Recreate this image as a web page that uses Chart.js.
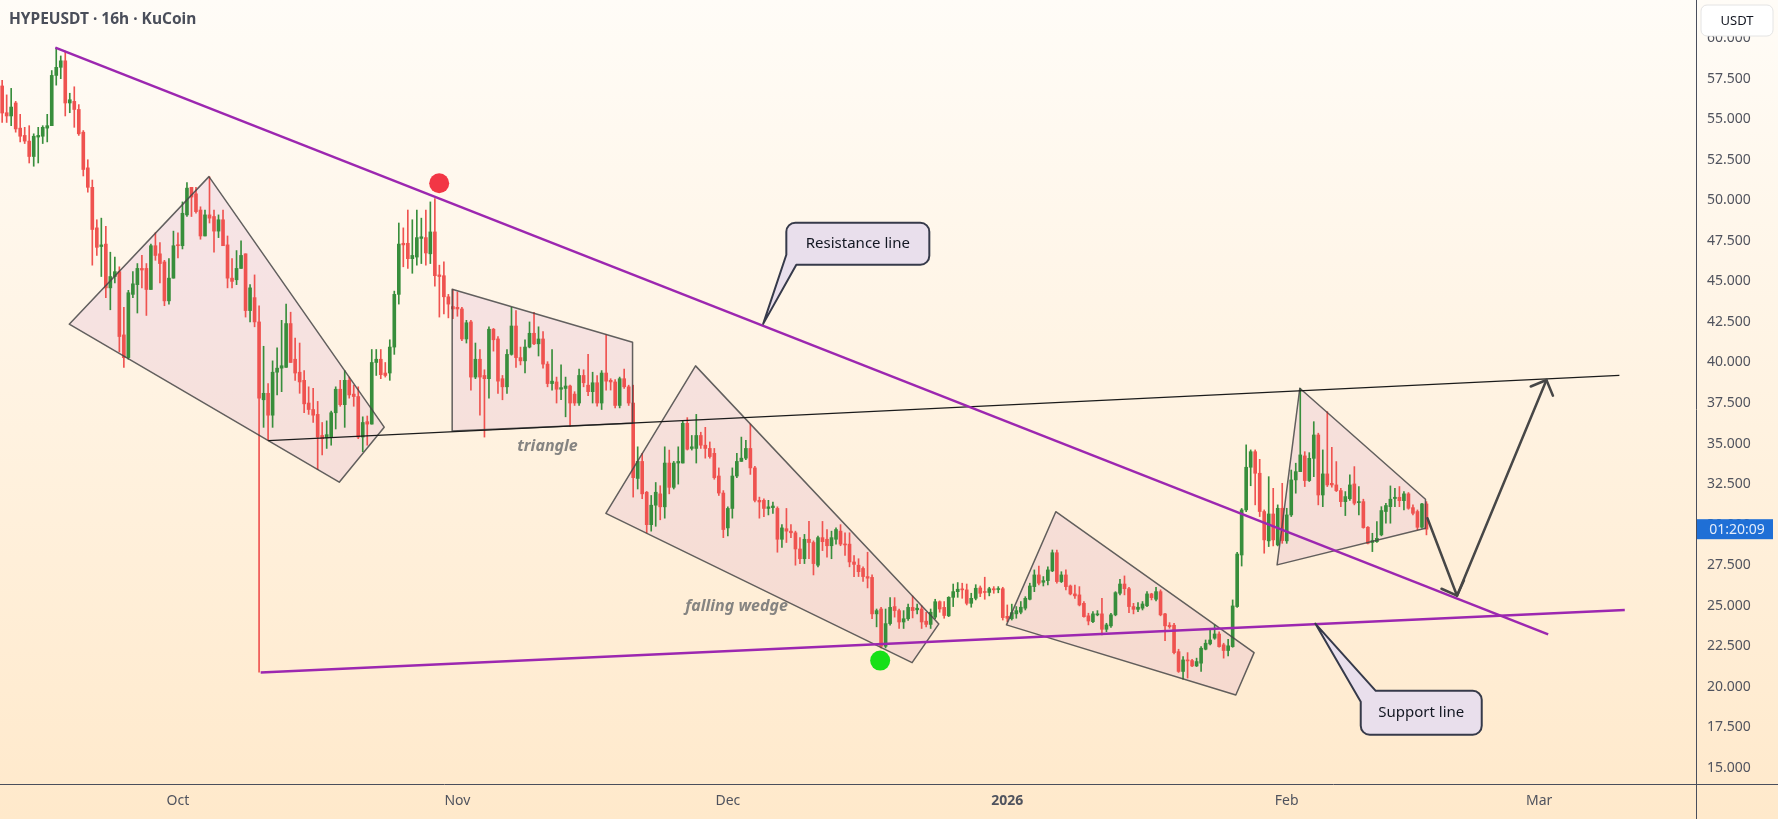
<!DOCTYPE html>
<html>
<head>
<meta charset="utf-8">
<title>HYPEUSDT 16h KuCoin</title>
<script src="https://cdn.jsdelivr.net/npm/chart.js@4.4.1/dist/chart.umd.min.js"></script>
<style>
  html, body { margin: 0; padding: 0; background: #fff6ea; }
  #wrap { width: 1778px; height: 819px; }
</style>
</head>
<body>
<div id="wrap"><canvas id="chart" width="1778" height="819"></canvas></div>
<script>
// x values are days counted from 1 Oct 2025, two 16h candles per day
const firstCandleDay = -19.5;
const candleStep = 0.5;

const monthTicks = [0, 31, 61, 92, 123, 151];
const monthLabels = ['Oct', 'Nov', 'Dec', '2026', 'Feb', 'Mar'];
const priceTicks = [15, 17.5, 20, 22.5, 25, 27.5, 30, 32.5, 35, 37.5, 40, 42.5, 45, 47.5, 50, 52.5, 55, 57.5, 60];

const opens = [
  57.05, 55.4, 55.2, 56.0, 54.45, 54.0, 53.65, 52.7, 53.9, 53.95,
  54.45, 54.6, 57.7, 58.2, 58.6, 56.0, 56.1, 55.6, 54.2, 52.0,
  50.8, 48.3, 47.15, 47.3, 44.6, 45.3, 45.6, 41.7, 40.3, 44.2,
  44.8, 45.8, 45.8, 44.5, 47.2, 46.7, 46.2, 43.8, 45.2, 47.25,
  47.2, 49.1, 50.8, 50.4, 49.4, 47.8, 49.1, 49.0, 48.1, 48.8,
  47.25, 45.2, 45.1, 45.8, 46.7, 43.2, 44.0, 42.5, 37.7, 38.1,
  36.75, 39.4, 39.65, 39.7, 42.4, 40.2, 39.4, 38.9, 37.5, 37.1,
  36.8, 35.5, 35.35, 35.4, 36.9, 38.35, 37.4, 38.9, 38.05, 37.9,
  35.4, 36.35, 36.2, 40.0, 40.2, 39.35, 39.35, 40.95, 44.2, 47.35,
  47.35, 46.4, 46.5, 47.65, 47.7, 46.7, 48.05, 45.4, 45.35, 44.05,
  43.45, 43.4, 43.3, 41.45, 42.5, 39.1, 40.2, 39.2, 39.0, 42.05,
  41.45, 39.0, 38.5, 40.5, 42.25, 40.3, 40.1, 40.95, 41.8, 41.15,
  41.45, 39.9, 38.7, 38.8, 38.35, 38.4, 38.55, 38.05, 37.5, 39.2,
  38.6, 38.2, 38.75, 37.5, 39.35, 38.9, 38.8, 37.35, 39.0, 38.5,
  37.5, 32.85, 33.9, 32.0, 30.0, 31.2, 31.9, 31.1, 33.8, 32.3,
  33.8, 33.8, 36.25, 34.7, 34.7, 35.5, 34.9, 34.7, 34.4, 33.0,
  31.95, 29.8, 31.0, 33.0, 33.9, 34.1, 34.7, 33.5, 31.5, 31.5,
  31.0, 31.05, 31.0, 29.1, 29.75, 29.6, 29.5, 28.5, 27.9, 29.1,
  28.9, 27.5, 29.2, 29.1, 28.7, 29.1, 29.6, 28.8, 28.8, 27.7,
  27.5, 27.3, 26.8, 26.75, 24.5, 24.8, 22.5, 23.9, 24.95, 24.7,
  24.0, 24.2, 24.9, 24.75, 24.8, 24.05, 23.85, 24.3, 25.25, 24.9,
  24.38, 25.52, 25.87, 26.02, 25.98, 25.15, 25.46, 26.1, 25.87, 25.82,
  26.05, 26.0, 26.05, 24.35, 24.2, 24.5, 24.6, 24.85, 25.4, 26.18,
  26.9, 26.45, 26.55, 27.15, 28.27, 26.49, 26.9, 26.22, 25.73, 25.67,
  25.15, 24.38, 24.02, 24.44, 24.5, 23.55, 23.76, 24.44, 25.77, 26.34,
  26.05, 24.95, 24.78, 24.85, 25.0, 25.73, 25.4, 25.87, 24.5, 23.8,
  23.8, 22.17, 20.95, 21.66, 21.62, 21.29, 21.46, 22.32, 22.65, 23.0,
  23.26, 22.59, 22.24, 22.48, 24.95, 28.13, 30.91, 33.54, 34.5, 33.17,
  30.81, 29.0, 30.66, 28.75, 31.01, 29.0, 30.6, 32.76, 33.27, 34.24,
  32.72, 34.09, 35.53, 31.83, 33.13, 32.55, 32.45, 32.1, 31.42, 31.6,
  32.51, 31.36, 31.42, 29.84, 28.9, 28.95, 29.37, 30.81, 31.11, 31.61,
  31.69, 31.48, 31.9, 31.05, 30.81, 29.84, 31.28
];
const highs = [
  57.4, 56.5, 56.9, 56.1, 55.3, 54.5, 54.6, 54.1, 54.5, 54.6,
  55.3, 58.0, 59.4, 58.9, 59.2, 56.6, 57.0, 55.9, 54.3, 52.5,
  51.25, 48.8, 48.9, 48.4, 46.8, 46.5, 45.9, 43.4, 44.45, 45.6,
  46.1, 46.6, 46.1, 47.3, 48.0, 47.4, 46.3, 46.4, 48.1, 48.0,
  49.9, 51.1, 50.8, 50.8, 49.6, 49.4, 51.45, 49.4, 49.1, 49.4,
  47.8, 46.4, 46.9, 47.5, 46.7, 44.8, 45.4, 43.5, 41.0, 38.7,
  40.1, 40.9, 42.6, 43.6, 43.1, 41.5, 41.2, 39.5, 38.5, 38.4,
  37.6, 36.3, 36.4, 37.0, 38.5, 38.9, 39.5, 39.1, 38.6, 38.5,
  36.65, 36.7, 40.8, 40.8, 40.8, 40.0, 41.4, 44.4, 48.6, 48.3,
  49.4, 48.8, 49.4, 48.9, 49.4, 49.9, 50.1, 46.0, 46.2, 44.2,
  44.5, 44.35, 43.4, 42.6, 42.6, 41.2, 40.8, 39.55, 42.2, 42.1,
  41.6, 39.2, 40.8, 43.4, 43.2, 40.95, 41.4, 42.5, 43.1, 42.2,
  41.9, 40.05, 40.8, 39.1, 39.85, 39.1, 38.6, 38.2, 39.6, 39.55,
  40.5, 39.4, 39.2, 39.5, 41.7, 39.0, 38.95, 39.1, 39.6, 38.6,
  38.6, 34.8, 34.4, 32.05, 31.8, 32.6, 32.4, 34.8, 34.6, 33.9,
  34.8, 36.4, 36.6, 35.5, 36.8, 35.7, 36.0, 35.1, 34.7, 33.5,
  32.1, 31.1, 33.5, 34.4, 35.4, 35.2, 36.2, 33.6, 31.7, 31.6,
  31.5, 31.4, 31.1, 30.0, 31.0, 30.0, 29.6, 29.2, 29.4, 30.2,
  29.0, 29.3, 30.2, 29.7, 29.6, 29.8, 30.0, 29.5, 29.5, 28.1,
  27.9, 27.4, 28.3, 26.9, 24.8, 24.9, 24.8, 25.5, 25.5, 24.8,
  24.7, 25.1, 25.6, 25.1, 25.0, 24.6, 24.8, 25.4, 25.3, 25.26,
  25.56, 26.34, 26.43, 26.39, 26.34, 25.77, 26.3, 26.22, 26.76, 26.14,
  26.18, 26.18, 26.14, 25.05, 25.1, 24.95, 25.26, 25.56, 26.39, 27.21,
  27.45, 26.8, 27.4, 28.44, 28.44, 27.1, 27.21, 26.28, 26.28, 26.18,
  25.26, 24.54, 24.64, 24.7, 25.46, 23.92, 24.54, 25.87, 26.63, 26.84,
  26.14, 25.15, 25.19, 25.26, 25.87, 25.77, 26.14, 25.98, 24.54, 23.96,
  23.92, 22.32, 21.87, 22.11, 21.7, 21.77, 22.48, 22.89, 23.51, 23.82,
  23.4, 22.69, 22.93, 25.36, 28.3, 31.0, 34.92, 34.61, 34.61, 34.03,
  30.91, 32.96, 32.24, 31.22, 32.55, 31.01, 33.37, 33.79, 38.41, 34.5,
  34.44, 36.35, 35.64, 34.61, 36.97, 34.77, 33.89, 32.24, 32.04, 33.07,
  33.58, 32.35, 31.57, 29.88, 29.47, 30.19, 31.11, 31.32, 32.39, 32.24,
  32.35, 32.04, 31.98, 31.22, 30.91, 31.32, 31.42
];
const lows = [
  54.8, 54.8, 54.6, 54.2, 53.6, 53.5, 52.3, 52.1, 52.3, 53.5,
  53.6, 54.6, 57.1, 57.5, 55.2, 55.4, 54.5, 54.0, 51.5, 50.5,
  46.0, 46.6, 45.3, 44.0, 43.25, 44.9, 40.65, 39.7, 40.2, 44.0,
  43.05, 44.6, 42.9, 44.5, 46.3, 44.9, 43.5, 43.6, 45.2, 46.45,
  47.0, 49.0, 49.0, 49.2, 47.6, 47.8, 48.6, 46.8, 47.7, 47.2,
  44.6, 44.6, 44.8, 45.8, 42.8, 42.5, 42.2, 20.9, 36.0, 35.2,
  36.0, 38.0, 38.2, 39.7, 40.0, 38.9, 38.1, 36.9, 36.8, 36.3,
  33.4, 34.3, 34.7, 34.9, 35.9, 37.3, 36.0, 37.8, 37.3, 35.3,
  34.5, 34.9, 36.2, 39.2, 39.0, 39.1, 38.9, 40.5, 43.6, 45.9,
  45.8, 45.5, 46.0, 46.1, 46.0, 46.1, 44.7, 42.8, 43.0, 42.75,
  42.7, 42.85, 41.35, 41.2, 38.3, 39.0, 36.75, 35.4, 37.8, 40.7,
  38.1, 37.7, 38.1, 40.45, 39.7, 39.85, 39.35, 40.9, 41.1, 40.4,
  39.65, 38.5, 38.3, 37.5, 37.7, 36.65, 36.05, 37.35, 37.35, 38.5,
  37.95, 37.5, 37.3, 37.1, 38.3, 38.3, 37.2, 37.2, 38.4, 37.35,
  31.7, 32.2, 31.6, 29.5, 29.6, 29.9, 30.3, 30.4, 31.9, 32.2,
  32.5, 33.8, 34.6, 34.6, 33.8, 34.7, 34.1, 34.1, 32.8, 31.8,
  29.2, 29.3, 30.4, 32.9, 33.9, 34.0, 33.1, 31.4, 30.4, 30.5,
  30.6, 30.7, 28.3, 28.6, 28.9, 29.2, 27.5, 27.6, 27.6, 27.9,
  26.9, 27.4, 28.4, 28.0, 27.9, 28.8, 28.7, 28.1, 27.4, 26.8,
  26.8, 26.5, 26.1, 24.2, 23.7, 22.4, 22.4, 23.8, 24.3, 23.6,
  23.6, 24.1, 24.25, 24.5, 23.6, 23.7, 23.6, 24.2, 24.6, 24.23,
  24.33, 24.95, 25.52, 25.46, 25.05, 24.91, 25.36, 25.56, 25.4, 25.61,
  25.77, 25.8, 24.12, 24.02, 24.12, 24.23, 24.5, 24.74, 25.36, 25.87,
  26.28, 26.22, 26.28, 27.1, 26.39, 26.43, 25.98, 25.67, 25.46, 24.99,
  24.3, 23.82, 23.96, 24.38, 23.2, 23.4, 23.67, 24.38, 25.67, 25.67,
  24.58, 24.5, 24.64, 24.74, 24.95, 25.36, 25.3, 24.38, 22.85, 23.61,
  22.03, 20.89, 20.48, 20.54, 21.25, 21.25, 20.95, 22.28, 22.59, 22.93,
  22.44, 21.77, 21.91, 22.44, 24.9, 27.45, 30.8, 32.4, 31.22, 30.5,
  28.24, 28.65, 28.69, 28.69, 28.85, 28.85, 30.5, 31.94, 33.27, 32.35,
  32.66, 32.96, 31.22, 31.11, 32.35, 32.31, 32.04, 31.11, 30.56, 31.5,
  31.22, 30.6, 29.78, 28.81, 28.34, 28.9, 29.31, 30.09, 30.09, 31.11,
  31.11, 30.91, 30.95, 30.6, 29.68, 29.78, 29.37
];
const closes = [
  55.38, 55.2, 55.75, 54.4, 53.95, 53.65, 52.7, 53.95, 54.0, 54.5,
  54.6, 57.7, 58.2, 58.6, 56.0, 56.2, 55.6, 54.1, 51.9, 50.8,
  48.2, 47.1, 47.25, 44.6, 45.3, 45.6, 41.6, 40.3, 44.3, 44.85,
  45.8, 45.7, 44.5, 47.2, 46.6, 46.1, 43.8, 45.2, 47.2, 47.2,
  49.2, 50.75, 50.2, 49.3, 47.8, 49.1, 48.9, 48.1, 48.8, 47.2,
  45.2, 45.0, 45.8, 46.6, 43.2, 44.6, 42.5, 37.8, 38.1, 36.75,
  39.4, 39.65, 39.8, 42.4, 40.0, 39.35, 38.8, 37.45, 37.1, 36.75,
  35.4, 35.3, 35.55, 36.9, 38.35, 37.4, 38.9, 38.0, 37.9, 35.4,
  36.3, 36.2, 40.0, 40.2, 39.25, 39.2, 40.95, 44.2, 47.3, 47.25,
  46.4, 46.6, 47.7, 47.75, 46.75, 48.05, 45.35, 45.3, 44.05, 43.6,
  43.3, 43.3, 41.45, 42.45, 39.1, 40.2, 39.1, 39.0, 42.05, 41.4,
  38.85, 38.5, 40.5, 42.25, 40.3, 40.1, 40.95, 41.8, 41.15, 41.45,
  39.9, 38.7, 38.85, 38.35, 38.45, 38.55, 37.5, 37.5, 39.2, 38.75,
  38.2, 38.75, 37.5, 39.35, 38.85, 38.8, 37.35, 39.0, 38.5, 37.5,
  32.9, 33.9, 31.9, 30.0, 31.2, 32.0, 31.1, 33.8, 32.3, 33.8,
  33.9, 36.25, 34.65, 34.8, 35.5, 34.9, 34.7, 34.2, 32.9, 31.95,
  29.7, 31.0, 33.0, 33.9, 34.1, 34.7, 33.5, 31.5, 31.4, 31.0,
  31.1, 31.15, 29.1, 29.8, 29.6, 29.5, 28.5, 27.9, 29.1, 28.9,
  27.6, 29.2, 28.95, 28.7, 29.2, 29.7, 28.8, 28.75, 27.7, 27.55,
  27.1, 26.8, 26.7, 24.5, 24.7, 22.5, 23.9, 24.9, 24.7, 24.0,
  24.2, 24.9, 24.7, 24.85, 24.0, 23.85, 24.6, 25.25, 24.8, 24.4,
  25.52, 25.87, 26.02, 25.98, 25.15, 25.46, 26.08, 25.77, 25.82, 26.05,
  25.98, 26.05, 24.27, 24.23, 24.58, 24.7, 24.91, 25.46, 26.22, 26.9,
  26.39, 26.55, 27.21, 28.27, 26.49, 26.9, 26.18, 25.73, 25.61, 25.05,
  24.33, 24.06, 24.5, 24.5, 23.55, 23.82, 24.44, 25.81, 26.34, 26.05,
  24.95, 24.78, 24.91, 25.11, 25.73, 25.5, 25.87, 24.44, 23.76, 23.71,
  22.11, 20.95, 21.66, 21.6, 21.29, 21.56, 22.38, 22.69, 22.89, 23.26,
  22.48, 22.24, 22.53, 24.99, 28.19, 30.91, 33.54, 34.5, 33.17, 30.81,
  29.06, 30.66, 29.06, 31.01, 29.02, 30.6, 32.76, 33.27, 34.3, 32.72,
  34.09, 35.53, 31.83, 33.13, 32.45, 32.45, 32.1, 31.42, 31.73, 32.45,
  31.32, 31.42, 29.82, 28.85, 29.02, 29.16, 30.87, 31.18, 31.57, 31.69,
  31.48, 31.9, 31.01, 30.7, 29.84, 31.28, 29.72
];

// drawings, given as [day, price]
const resistanceLine = [[-13.6, 59.41], [152.0, 23.24]];
const supportLine = [[9.18, 20.89], [160.5, 24.74]];
const rangeLine = [[10.02, 35.18], [159.9, 39.21]];
const patternBoxes = [
  [[-12.06, 42.36], [3.44, 51.46], [22.88, 36.01], [17.89, 32.62]],
  [[30.42, 44.51], [50.43, 41.25], [50.43, 36.25], [30.42, 35.78]],
  [[47.47, 30.70], [57.42, 39.79], [84.41, 23.88], [81.44, 21.49]],
  [[91.91, 23.82], [97.38, 30.80], [119.38, 22.11], [117.35, 19.50]],
  [[124.45, 38.41], [138.39, 31.57], [138.39, 29.78], [121.93, 27.52]]
];
const projection = [[138.61, 30.40], [141.89, 25.62], [151.81, 38.92]];
const pivotDots = [
  { at: [28.98, 51.05], color: '#f23645' },
  { at: [77.9, 21.62], color: '#17e017' }
];
const patternLabels = [
  { text: 'triangle', at: [41.0, 34.82] },
  { text: 'falling wedge', at: [61.97, 24.96] }
];
const callouts = [
  { text: 'Resistance line', tip: [64.92, 42.38], box: [75.42, 47.32], w: 143, h: 42, corner: 'bl' },
  { text: 'Support line', tip: [126.17, 23.90], box: [137.92, 18.40], w: 121, h: 44, corner: 'tl' }
];

const upColor = '#388e3c';
const downColor = '#ef5350';
const FONT = "'Noto Sans', 'DejaVu Sans', sans-serif";

const candleDays = opens.map((_, i) => firstCandleDay + i * candleStep);
const candleColors = closes.map((c, i) => c >= opens[i] ? upColor : downColor);
const wickData = candleDays.map((d, i) => ({ x: d, y: [lows[i], highs[i]] }));
const bodyData = candleDays.map((d, i) => ({ x: d, y: [Math.min(opens[i], closes[i]), Math.max(opens[i], closes[i])] }));

function arrowHead(ctx, from, to, len, ang) {
  const a = Math.atan2(to.y - from.y, to.x - from.x);
  ctx.beginPath();
  ctx.moveTo(to.x - len * Math.cos(a - ang), to.y - len * Math.sin(a - ang));
  ctx.lineTo(to.x, to.y);
  ctx.lineTo(to.x - len * Math.cos(a + ang), to.y - len * Math.sin(a + ang));
  ctx.stroke();
}

function calloutPath(ctx, x0, y0, w, h, r, tip, corner) {
  const x1 = x0 + w, y1 = y0 + h;
  ctx.beginPath();
  if (corner === 'bl') {
    ctx.moveTo(x0 + r, y0);
    ctx.lineTo(x1 - r, y0); ctx.arcTo(x1, y0, x1, y0 + r, r);
    ctx.lineTo(x1, y1 - r); ctx.arcTo(x1, y1, x1 - r, y1, r);
    ctx.lineTo(x0 + 10, y1);
    ctx.lineTo(tip.x, tip.y);
    ctx.lineTo(x0, y1 - 10);
    ctx.lineTo(x0, y0 + r); ctx.arcTo(x0, y0, x0 + r, y0, r);
  } else {
    ctx.moveTo(x0 + 15, y0);
    ctx.lineTo(x1 - r, y0); ctx.arcTo(x1, y0, x1, y0 + r, r);
    ctx.lineTo(x1, y1 - r); ctx.arcTo(x1, y1, x1 - r, y1, r);
    ctx.lineTo(x0 + r, y1); ctx.arcTo(x0, y1, x0, y1 - r, r);
    ctx.lineTo(x0, y0 + 11);
    ctx.lineTo(tip.x, tip.y);
  }
  ctx.closePath();
}

const drawings = {
  id: 'drawings',
  beforeDraw(chart) {
    const ctx = chart.ctx;
    const g = ctx.createLinearGradient(0, 0, 0, chart.height);
    g.addColorStop(0, '#fffcf7');
    g.addColorStop(1, '#ffe9cb');
    ctx.save();
    ctx.fillStyle = g;
    ctx.fillRect(0, 0, chart.width, chart.height);
    ctx.restore();
  },
  beforeDatasetsDraw(chart) {
    const ctx = chart.ctx, xs = chart.scales.x, ys = chart.scales.y;
    ctx.save();
    ctx.fillStyle = 'rgba(156, 39, 176, 0.09)';
    patternBoxes.forEach(box => {
      ctx.beginPath();
      box.forEach((p, i) => {
        const x = xs.getPixelForValue(p[0]), y = ys.getPixelForValue(p[1]);
        if (i === 0) ctx.moveTo(x, y); else ctx.lineTo(x, y);
      });
      ctx.closePath();
      ctx.fill();
    });
    ctx.restore();
  },
  afterDatasetsDraw(chart) {
    const ctx = chart.ctx, xs = chart.scales.x, ys = chart.scales.y;
    const pt = p => ({ x: xs.getPixelForValue(p[0]), y: ys.getPixelForValue(p[1]) });
    const line = (pts, color, width) => {
      ctx.strokeStyle = color; ctx.lineWidth = width;
      ctx.beginPath();
      pts.map(pt).forEach((p, i) => i ? ctx.lineTo(p.x, p.y) : ctx.moveTo(p.x, p.y));
      ctx.stroke();
    };
    ctx.save();
    ctx.lineJoin = 'round';

    // pattern outlines
    ctx.strokeStyle = 'rgba(70, 70, 70, 0.85)';
    ctx.lineWidth = 1.5;
    patternBoxes.forEach(box => {
      ctx.beginPath();
      box.map(pt).forEach((p, i) => i ? ctx.lineTo(p.x, p.y) : ctx.moveTo(p.x, p.y));
      ctx.closePath();
      ctx.stroke();
    });

    line(rangeLine, '#1b1b1b', 1.3);
    line(resistanceLine, '#9c27b0', 2.5);
    line(supportLine, '#9c27b0', 2.5);

    // projected path
    ctx.lineCap = 'round';
    line(projection, '#474747', 2.5);
    const pp = projection.map(pt);
    ctx.strokeStyle = '#474747';
    arrowHead(ctx, pp[0], pp[1], 17, Math.PI / 4);
    arrowHead(ctx, pp[1], pp[2], 17, Math.PI / 4);

    pivotDots.forEach(d => {
      const p = pt(d.at);
      ctx.fillStyle = d.color;
      ctx.beginPath();
      ctx.arc(p.x, p.y, 10, 0, Math.PI * 2);
      ctx.fill();
    });

    ctx.fillStyle = 'rgba(120, 120, 120, 0.9)';
    ctx.font = 'italic bold 16px ' + FONT;
    ctx.textAlign = 'center';
    ctx.textBaseline = 'middle';
    patternLabels.forEach(l => {
      const p = pt(l.at);
      ctx.fillText(l.text, p.x, p.y);
    });

    callouts.forEach(c => {
      const tip = pt(c.tip), mid = pt(c.box);
      const x0 = mid.x - c.w / 2, y0 = mid.y - c.h / 2;
      calloutPath(ctx, x0, y0, c.w, c.h, 9, tip, c.corner);
      ctx.fillStyle = '#e9dfec';
      ctx.fill();
      ctx.strokeStyle = '#363a4a';
      ctx.lineWidth = 2;
      ctx.stroke();
      ctx.fillStyle = '#131722';
      ctx.font = '15px ' + FONT;
      ctx.fillText(c.text, mid.x, mid.y);
    });
    ctx.restore();
  },
  afterDraw(chart) {
    const ctx = chart.ctx, area = chart.chartArea, ys = chart.scales.y;
    ctx.save();
    ctx.strokeStyle = '#4a4e5c';
    ctx.lineWidth = 1;
    ctx.beginPath();
    ctx.moveTo(Math.round(area.right) + 0.5, 0);
    ctx.lineTo(Math.round(area.right) + 0.5, chart.height);
    ctx.moveTo(0, Math.round(area.bottom) + 0.5);
    ctx.lineTo(chart.width, Math.round(area.bottom) + 0.5);
    ctx.stroke();

    // currency box
    ctx.fillStyle = '#ffffff';
    ctx.strokeStyle = '#e4e4e4';
    ctx.beginPath();
    ctx.roundRect(area.right + 5, 5, 72, 31, 6);
    ctx.fill();
    ctx.stroke();
    ctx.fillStyle = '#131722';
    ctx.font = '13px ' + FONT;
    ctx.textAlign = 'center';
    ctx.textBaseline = 'middle';
    ctx.fillText('USDT', area.right + 41, 21);

    // countdown label at last close
    const yLast = ys.getPixelForValue(closes[closes.length - 1]);
    ctx.fillStyle = '#1f6fd6';
    ctx.fillRect(area.right + 1, yLast - 10, 76, 20);
    ctx.fillStyle = '#e3ecfb';
    ctx.font = '14px ' + FONT;
    ctx.fillText('01:20:09', area.right + 41, yLast + 0.5);

    // title
    ctx.fillStyle = '#4a4e5a';
    ctx.font = 'bold 15.5px ' + FONT;
    ctx.textAlign = 'left';
    ctx.fillText('HYPEUSDT · 16h · KuCoin', 9, 20);
    ctx.restore();
  }
};

Chart.defaults.font.family = FONT;

new Chart(document.getElementById('chart'), {
  type: 'bar',
  data: {
    datasets: [
      {
        label: 'wicks',
        data: wickData,
        backgroundColor: candleColors,
        barThickness: 1,
        minBarLength: 1,
        grouped: false,
        borderWidth: 0
      },
      {
        label: 'bodies',
        data: bodyData,
        backgroundColor: candleColors,
        barThickness: 3,
        minBarLength: 1,
        grouped: false,
        borderWidth: 0
      }
    ]
  },
  options: {
    responsive: false,
    animation: false,
    devicePixelRatio: 1,
    layout: { padding: 0 },
    plugins: {
      legend: { display: false },
      tooltip: { enabled: false },
      title: { display: false }
    },
    scales: {
      x: {
        type: 'linear',
        min: -19.74,
        max: 168.4,
        offset: false,
        grid: { display: false, drawTicks: false, offset: false },
        border: { display: false },
        afterBuildTicks: s => { s.ticks = monthTicks.map(v => ({ value: v })); },
        afterFit: s => { s.height = 35; s.paddingLeft = 0; s.paddingRight = 0; },
        ticks: {
          autoSkip: false,
          maxRotation: 0,
          padding: 9,
          color: '#50535e',
          font: c => ({ size: 14, weight: c.index === 3 ? 'bold' : 'normal' }),
          callback: v => monthLabels[monthTicks.indexOf(v)]
        }
      },
      y: {
        type: 'linear',
        position: 'right',
        min: 14.01,
        max: 62.35,
        grid: { display: false, drawTicks: false, tickLength: 0 },
        border: { display: false },
        afterBuildTicks: s => { s.ticks = priceTicks.map(v => ({ value: v })); },
        afterFit: s => { s.width = 82; s.paddingTop = 0; s.paddingBottom = 0; },
        ticks: {
          padding: 11,
          color: '#50535e',
          font: { size: 14 },
          callback: v => v.toFixed(3)
        }
      }
    }
  },
  plugins: [drawings]
});
</script>
</body>
</html>
